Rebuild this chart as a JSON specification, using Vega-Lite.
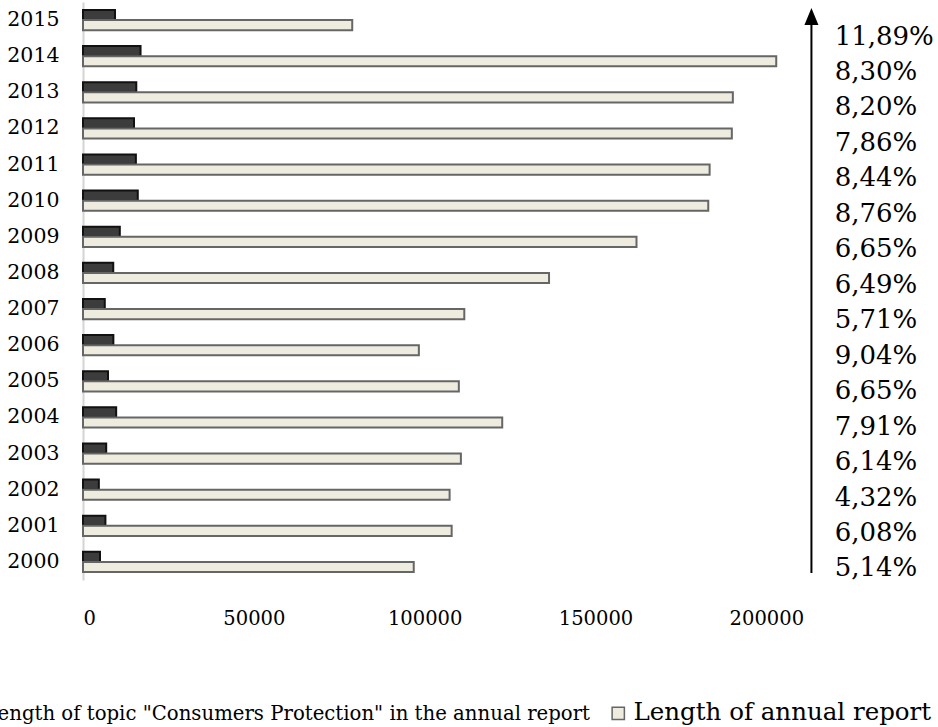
{
  "$schema": "https://vega.github.io/schema/vega-lite/v6.json",
  "width": 820,
  "height": 578,
  "autosize": {"type": "none"},
  "padding": {"left": 83, "top": 2, "right": 35, "bottom": 147},
  "background": "white",
  "config": {
    "view": {"stroke": null},
    "font": "DejaVu Serif",
    "locale": {"number": {"decimal": ",", "thousands": ".", "grouping": [3], "currency": ["", ""]}}
  },
  "datasets": {
    "bars": [
      {"year": "2015", "series": "Length of topic \"Consumers Protection\" in the annual report", "length": 9369},
      {"year": "2015", "series": "Length of annual report", "length": 78800},
      {"year": "2014", "series": "Length of topic \"Consumers Protection\" in the annual report", "length": 16841},
      {"year": "2014", "series": "Length of annual report", "length": 202900},
      {"year": "2013", "series": "Length of topic \"Consumers Protection\" in the annual report", "length": 15596},
      {"year": "2013", "series": "Length of annual report", "length": 190200},
      {"year": "2012", "series": "Length of topic \"Consumers Protection\" in the annual report", "length": 14926},
      {"year": "2012", "series": "Length of annual report", "length": 189900},
      {"year": "2011", "series": "Length of topic \"Consumers Protection\" in the annual report", "length": 15479},
      {"year": "2011", "series": "Length of annual report", "length": 183400},
      {"year": "2010", "series": "Length of topic \"Consumers Protection\" in the annual report", "length": 16031},
      {"year": "2010", "series": "Length of annual report", "length": 183000},
      {"year": "2009", "series": "Length of topic \"Consumers Protection\" in the annual report", "length": 10773},
      {"year": "2009", "series": "Length of annual report", "length": 162000},
      {"year": "2008", "series": "Length of topic \"Consumers Protection\" in the annual report", "length": 8852},
      {"year": "2008", "series": "Length of annual report", "length": 136400},
      {"year": "2007", "series": "Length of topic \"Consumers Protection\" in the annual report", "length": 6372},
      {"year": "2007", "series": "Length of annual report", "length": 111600},
      {"year": "2006", "series": "Length of topic \"Consumers Protection\" in the annual report", "length": 8886},
      {"year": "2006", "series": "Length of annual report", "length": 98300},
      {"year": "2005", "series": "Length of topic \"Consumers Protection\" in the annual report", "length": 7315},
      {"year": "2005", "series": "Length of annual report", "length": 110000},
      {"year": "2004", "series": "Length of topic \"Consumers Protection\" in the annual report", "length": 9706},
      {"year": "2004", "series": "Length of annual report", "length": 122700},
      {"year": "2003", "series": "Length of topic \"Consumers Protection\" in the annual report", "length": 6791},
      {"year": "2003", "series": "Length of annual report", "length": 110600},
      {"year": "2002", "series": "Length of topic \"Consumers Protection\" in the annual report", "length": 4635},
      {"year": "2002", "series": "Length of annual report", "length": 107300},
      {"year": "2001", "series": "Length of topic \"Consumers Protection\" in the annual report", "length": 6560},
      {"year": "2001", "series": "Length of annual report", "length": 107900},
      {"year": "2000", "series": "Length of topic \"Consumers Protection\" in the annual report", "length": 4976},
      {"year": "2000", "series": "Length of annual report", "length": 96800}
    ],
    "shares": [
      {"year": "2015", "share": 0.1189},
      {"year": "2014", "share": 0.0830},
      {"year": "2013", "share": 0.0820},
      {"year": "2012", "share": 0.0786},
      {"year": "2011", "share": 0.0844},
      {"year": "2010", "share": 0.0876},
      {"year": "2009", "share": 0.0665},
      {"year": "2008", "share": 0.0649},
      {"year": "2007", "share": 0.0571},
      {"year": "2006", "share": 0.0904},
      {"year": "2005", "share": 0.0665},
      {"year": "2004", "share": 0.0791},
      {"year": "2003", "share": 0.0614},
      {"year": "2002", "share": 0.0432},
      {"year": "2001", "share": 0.0608},
      {"year": "2000", "share": 0.0514}
    ],
    "arrow": [
      {"x": 213200, "top": 96.89, "bottom": 1.21, "head": 97.49}
    ]
  },
  "layer": [
    {
      "data": {"name": "bars"},
      "mark": {"type": "bar", "strokeWidth": 2},
      "encoding": {
        "y": {
          "field": "year", "type": "nominal", "sort": "descending",
          "scale": {"paddingInner": 0.44, "paddingOuter": 0.22},
          "axis": {"title": null, "ticks": false, "domainColor": "#d4d4d4", "domainWidth": 2,
                   "labelFontSize": 20.5, "labelColor": "black", "labelFont": "DejaVu Serif", "labelPadding": 24}
        },
        "yOffset": {
          "field": "series", "type": "nominal",
          "scale": {"domain": ["Length of topic \"Consumers Protection\" in the annual report", "Length of annual report"], "paddingInner": 0}
        },
        "x": {
          "field": "length", "type": "quantitative",
          "scale": {"domain": [0, 240000], "nice": false},
          "axis": {"values": [0, 50000, 100000, 150000, 200000], "format": "d", "grid": false, "domain": false,
                   "ticks": false, "title": null, "labelFontSize": 19.5, "labelColor": "black",
                   "labelFont": "DejaVu Serif", "labelPadding": 29}
        },
        "color": {
          "field": "series", "type": "nominal",
          "scale": {"domain": ["Length of topic \"Consumers Protection\" in the annual report", "Length of annual report"],
                    "range": ["#3c3c3c", "#eeebdf"]},
          "legend": {"orient": "none", "legendX": -126, "legendY": 699, "direction": "horizontal", "title": null,
                     "labelFontSize": {"expr": "datum.index === 0 ? 19.7 : 24.5"},
                     "labelColor": "black", "labelFont": "DejaVu Serif", "labelLimit": 2000,
                     "symbolType": "square", "symbolSize": 150, "symbolStrokeWidth": 1.5, "labelOffset": 3,
                     "columnPadding": 15}
        },
        "stroke": {
          "field": "series", "type": "nominal",
          "scale": {"domain": ["Length of topic \"Consumers Protection\" in the annual report", "Length of annual report"],
                    "range": ["#111111", "#666666"]}
        }
      }
    },
    {
      "data": {"name": "shares"},
      "mark": {"type": "text", "align": "left", "baseline": "middle", "fontSize": 26, "font": "DejaVu Serif", "color": "black"},
      "encoding": {
        "y": {"field": "year", "type": "nominal", "sort": "descending",
              "scale": {"type": "point", "padding": 0.6485, "align": 0.75}, "axis": null},
        "x": {"datum": 220000},
        "text": {"field": "share", "type": "quantitative", "format": ".2%"}
      }
    },
    {
      "data": {"name": "arrow"},
      "mark": {"type": "rule", "color": "black", "strokeWidth": 2},
      "encoding": {
        "x": {"field": "x", "type": "quantitative"},
        "y": {"field": "top", "type": "quantitative", "scale": {"domain": [0, 100]}, "axis": null},
        "y2": {"field": "bottom"}
      }
    },
    {
      "data": {"name": "arrow"},
      "mark": {"type": "point", "shape": "M0,-1.2L-1,1.2L1,1.2Z", "filled": true, "color": "black", "size": 196, "opacity": 1},
      "encoding": {
        "x": {"field": "x", "type": "quantitative"},
        "y": {"field": "head", "type": "quantitative", "scale": {"domain": [0, 100]}, "axis": null}
      }
    }
  ],
  "resolve": {"scale": {"y": "independent"}}
}
